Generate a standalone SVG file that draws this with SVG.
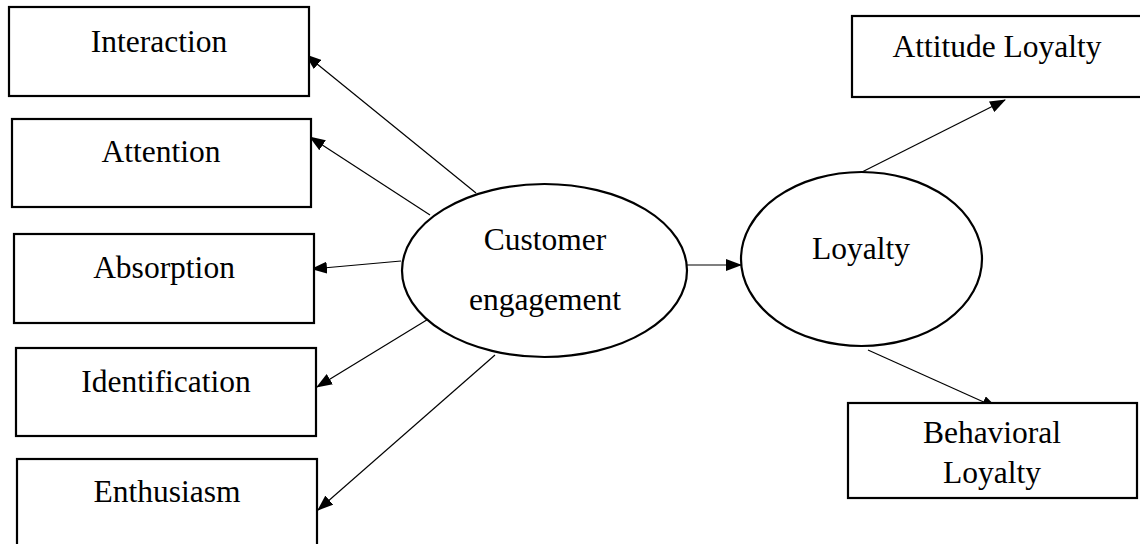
<svg xmlns="http://www.w3.org/2000/svg" width="1140" height="544" viewBox="0 0 1140 544">
<defs>
<marker id="ah" markerWidth="16" markerHeight="12" refX="15" refY="6" orient="auto" markerUnits="userSpaceOnUse">
<path d="M0,0 L16,6 L0,12 Z" fill="#000"/>
</marker>
<style>
.box{fill:#fff;stroke:#000;stroke-width:2.2}
.ell{fill:#fff;stroke:#000;stroke-width:2.2}
.lbl{font-family:"Liberation Serif","Times New Roman",serif;font-size:31.5px;fill:#000;text-anchor:middle}
.con line{stroke:#000;stroke-width:1.2;fill:none;marker-end:url(#ah)}
</style>
</defs>
<rect width="1140" height="544" fill="#fff"/>
<g id="connectors" class="con">
<line x1="476" y1="193" x2="306" y2="55"/>
<line x1="430" y1="215" x2="310" y2="137"/>
<line x1="401" y1="261" x2="312" y2="269"/>
<line x1="430" y1="318" x2="317" y2="387"/>
<line x1="495" y1="355" x2="318" y2="510"/>
<line x1="687" y1="265" x2="741" y2="265"/>
<line x1="862" y1="172" x2="1005" y2="100"/>
<line x1="868" y1="350" x2="997" y2="408"/>
</g>
<g id="interaction"><rect class="box" x="9" y="7" width="300" height="89"/><text class="lbl" x="159" y="52">Interaction</text></g>
<g id="attention"><rect class="box" x="12" y="119" width="299" height="88"/><text class="lbl" x="161" y="162">Attention</text></g>
<g id="absorption"><rect class="box" x="14" y="234" width="300" height="89"/><text class="lbl" x="164" y="278">Absorption</text></g>
<g id="identification"><rect class="box" x="16" y="348" width="300" height="88"/><text class="lbl" x="166" y="392">Identification</text></g>
<g id="enthusiasm"><rect class="box" x="17" y="459" width="300" height="95"/><text class="lbl" x="167" y="502">Enthusiasm</text></g>
<g id="customer-engagement"><ellipse class="ell" cx="544.5" cy="270.5" rx="142.5" ry="86.5"/><text class="lbl" x="545" y="250">Customer</text><text class="lbl" x="545" y="310">engagement</text></g>
<g id="loyalty"><ellipse class="ell" cx="861.5" cy="259" rx="120.5" ry="87"/><text class="lbl" x="861" y="259">Loyalty</text></g>
<g id="attitude-loyalty"><rect class="box" x="852" y="16" width="300" height="81"/><text class="lbl" x="997" y="57">Attitude Loyalty</text></g>
<g id="behavioral-loyalty"><rect class="box" x="848" y="403" width="289" height="95"/><text class="lbl" x="992" y="443">Behavioral</text><text class="lbl" x="992" y="483">Loyalty</text></g>
</svg>
